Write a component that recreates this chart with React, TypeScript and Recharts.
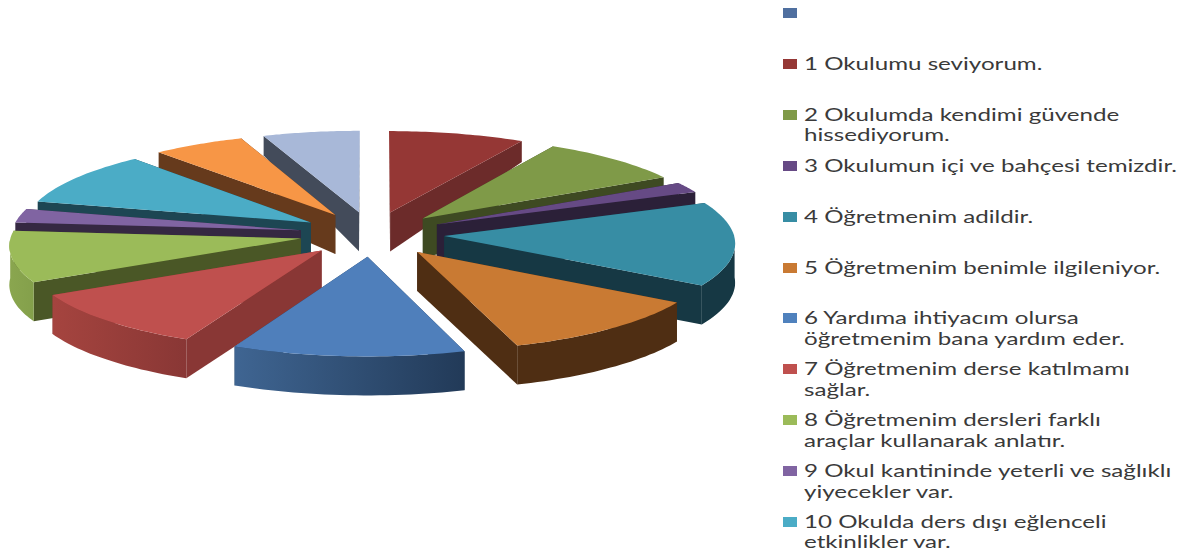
import { Legend, Pie, PieChart } from 'recharts';

const categories = [
    '',
    '1 Okulumu seviyorum.',
    '2 Okulumda kendimi güvende\nhissediyorum.',
    '3 Okulumun içi ve bahçesi temizdir.',
    '4 Öğretmenim adildir.',
    '5 Öğretmenim benimle ilgileniyor.',
    '6 Yardıma ihtiyacım olursa\nöğretmenim bana yardım eder.',
    '7 Öğretmenim derse katılmamı\nsağlar.',
    '8 Öğretmenim dersleri farklı\naraçlar kullanarak anlatır.',
    '9 Okul kantininde yeterli ve sağlıklı\nyiyecekler var.',
    '10 Okulda ders dışı eğlenceli\netkinlikler var.',
];
const extraCategories = ['11', '12'];
const values = [0, 29.5, 31.5, 7, 54, 40, 43, 37, 33, 9, 35, 20, 21];

const topColors = ['#4f81bd', '#953735', '#7f9a48', '#664a85', '#378da4', '#c97a33', '#4f7fbb', '#bf504e', '#9bbb59', '#8064a2', '#4bacc6', '#f79646', '#a8b8d8'];
const sideColors = ['#223b59', '#6c2b2a', '#3e4a22', '#2b2038', '#163844', '#4f2e13', '#223b59', '#893735', '#4a5726', '#352842', '#1d4653', '#663a1c', '#434b5a'];
const outerFrom = ['#3f6592', '#7c3230', '#6d843d', '#4a3660', '#163844', '#4f2e13', '#3f6592', '#a5443f', '#8aa64f', '#5c4875', '#2a6170', '#a5642e', '#78849c'];
const outerTo = ['#223a58', '#6c2b2a', '#5c7030', '#352842', '#163844', '#4f2e13', '#223a58', '#893735', '#84a04b', '#4a3660', '#1d4653', '#663a1c', '#434b5a'];
const legendColors = ['#4f6f9f', '#953735', '#7f9a48', '#664a85', '#378da4', '#c97a33', '#4f81bd', '#bf504e', '#9bbb59', '#8064a2', '#4bacc6'];

const rows = values.map((value, idx) => ({ name: categories[idx] ?? extraCategories[idx - categories.length], value, idx }));
const rightRows = rows.slice(0, 7);
const leftRows = rows.slice(7).reverse();
const total = (list: { value: number }[]) => list.reduce((s, r) => s + r.value, 0);

// pie is faked in 3d: tilt + a bit of perspective + exploded slices
const TILT = 0.31;
const PERSPECTIVE = 0.067;
const EXPLODE = 0.25;

function wallHeight(v: number) {
    return v < -0.25 ? 39 + (v + 0.25) * 21 : 39;
}

function Slice3D(props: any) {
    const { cx, cy, outerRadius: R, startAngle, endAngle } = props;
    const idx = props.idx ?? props.payload?.idx;
    if (Math.abs(endAngle - startAngle) < 0.01) return null;

    const toRad = (a: number) => ((90 - a) * Math.PI) / 180;
    const mid = toRad((startAngle + endAngle) / 2);
    const ou = EXPLODE * Math.sin(mid);
    const ov = -EXPLODE * Math.cos(mid);

    const project = (u: number, v: number, down: boolean) => {
        const s = 1 / (1 - PERSPECTIVE * v);
        return [cx + u * R * s, cy + v * R * TILT * s + (down ? wallHeight(v) : 0)];
    };
    const fmt = (p: number[]) => `${p[0].toFixed(1)} ${p[1].toFixed(1)}`;

    const arcTop: number[][] = [];
    const arcBottom: number[][] = [];
    const frontTop: number[][] = [];
    const frontBottom: number[][] = [];
    const steps = 30;
    for (let i = 0; i <= steps; i++) {
        const t = toRad(startAngle + ((endAngle - startAngle) * i) / steps);
        const u = ou + Math.sin(t);
        const v = ov - Math.cos(t);
        arcTop.push(project(u, v, false));
        arcBottom.push(project(u, v, true));
        // the rim only shows on the near half of the pie
        if (Math.cos(t) < 0) {
            frontTop.push(project(u, v, false));
            frontBottom.push(project(u, v, true));
        }
    }
    const apexTop = project(ou, ov, false);
    const apexBottom = project(ou, ov, true);

    const top = `M${fmt(apexTop)} ${arcTop.map((p) => `L${fmt(p)}`).join(' ')} Z`;
    const outer = `M${frontTop.map(fmt).join(' L')} L${[...frontBottom].reverse().map(fmt).join(' L')} Z`;
    const side = (a: number[], b: number[]) => `M${fmt(apexTop)} L${fmt(a)} L${fmt(b)} L${fmt(apexBottom)} Z`;
    const gradId = `outer-${idx}`;

    return (
        <g>
            <defs>
                <linearGradient id={gradId} x1="0" y1="0" x2="1" y2="0">
                    <stop offset="0%" stopColor={outerFrom[idx]} />
                    <stop offset="100%" stopColor={outerTo[idx]} />
                </linearGradient>
            </defs>
            <path d={side(arcTop[0], arcBottom[0])} fill={sideColors[idx]} />
            <path d={side(arcTop[steps], arcBottom[steps])} fill={sideColors[idx]} />
            {frontTop.length > 1 && <path d={outer} fill={`url(#${gradId})`} />}
            <path d={top} fill={topColors[idx]} />
        </g>
    );
}

function LegendBlock() {
    return (
        <div style={{ position: 'relative', width: 1189, height: 551, fontFamily: 'Lato', fontSize: 17, lineHeight: '20.4px', color: '#3a3a3a' }}>
            {categories.map((label, i) => (
                <div key={i}>
                    <div style={{ position: 'absolute', left: 783, top: 8 + i * 50.9, width: 14, height: 10, background: legendColors[i] }} />
                    <div
                        style={{
                            position: 'absolute',
                            left: 804,
                            top: 3 + i * 50.9,
                            whiteSpace: 'pre',
                            transform: 'scaleX(1.42)',
                            transformOrigin: 'left top',
                        }}
                    >
                        {label}
                    </div>
                </div>
            ))}
        </div>
    );
}

export default function App() {
    return (
        <div style={{ position: 'absolute', left: 0, top: 0, width: 1189, height: 551, background: '#fff', overflow: 'hidden' }}>
            <PieChart width={1189} height={551} margin={{ top: 0, right: 0, bottom: 0, left: 0 }}>
                <Pie
                    data={leftRows}
                    dataKey="value"
                    cx={372}
                    cy={234}
                    outerRadius={289.5}
                    startAngle={90}
                    endAngle={90 + total(leftRows)}
                    stroke="none"
                    shape={Slice3D}
                    isAnimationActive={false}
                />
                <Pie
                    data={rightRows}
                    dataKey="value"
                    cx={372}
                    cy={234}
                    outerRadius={289.5}
                    startAngle={90}
                    endAngle={90 - total(rightRows)}
                    stroke="none"
                    shape={Slice3D}
                    isAnimationActive={false}
                />
                <Legend content={LegendBlock} wrapperStyle={{ left: 0, top: 0, width: 1189, height: 551 }} />
            </PieChart>
        </div>
    );
}
